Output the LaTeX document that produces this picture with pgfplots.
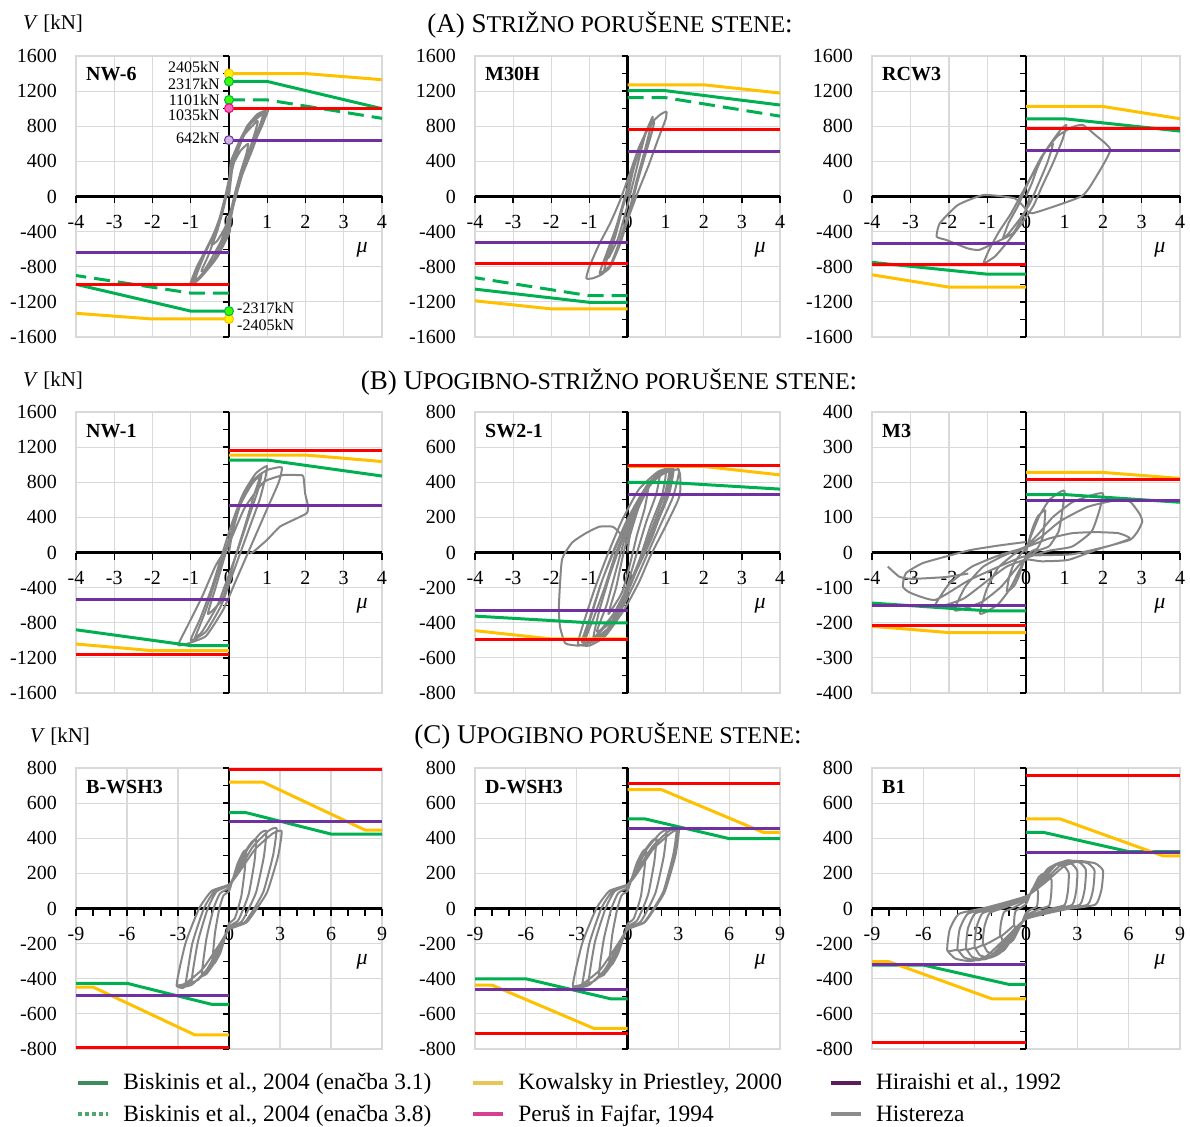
\documentclass[border=0pt]{standalone}
\usepackage{fontspec}
\setmainfont{Liberation Serif}
\usepackage{pgfplots}
\pgfplotsset{compat=1.18}
\definecolor{gridc}{RGB}{217,217,217}
\definecolor{cY}{RGB}{255,192,0}
\definecolor{cG}{RGB}{0,176,80}
\definecolor{cR}{RGB}{255,0,0}
\definecolor{cP}{RGB}{112,48,160}
\definecolor{cH}{RGB}{134,134,134}
\definecolor{lg1}{RGB}{62,140,90}
\definecolor{lg2}{RGB}{80,165,110}
\definecolor{lg3}{RGB}{232,196,90}
\definecolor{lg4}{RGB}{214,64,143}
\definecolor{lg5}{RGB}{92,28,94}
\definecolor{lg6}{RGB}{140,140,140}
\newcommand{\tickfont}{\fontsize{20}{20}\selectfont}
\newcommand{\zeroax}[6]{%
  \draw[black, line width=2.5pt] (axis cs:#1,0) -- (axis cs:#2,0);
  \draw[black, line width=2.5pt] (axis cs:0,#3) -- (axis cs:0,#4);
  \pgfplotsinvokeforeach{#5}{\draw[black, line width=1.3pt] (axis cs:##1,0) -- ++(0pt,-7pt);}
  \pgfplotsinvokeforeach{#6}{\draw[black, line width=1.3pt] (axis cs:0,##1) -- ++(-6pt,0pt);}
}
\newcommand{\xlabs}[1]{\pgfplotsinvokeforeach{#1}{\node[font=\tickfont, yshift=-25pt] at (axis cs:##1,0) {##1};}}
\newcommand{\pname}[1]{\node[anchor=base west, inner sep=0pt, font=\bfseries\fontsize{20}{20}\selectfont, xshift=10pt, yshift=-25pt] at (rel axis cs:0,1) {#1};
  \node[font=\fontsize{22}{22}\selectfont\itshape] at (rel axis cs:0.935,0.31) {μ};}
\pgfplotsset{
 panel/.style={scale only axis, height=281pt, anchor=north west, clip=false,
   axis line style={draw=gridc, line width=1.2pt},
   grid=major, grid style={draw=gridc, line width=1.2pt},
   major tick length=0pt, minor tick length=0pt,
   xticklabels={},
   yticklabel style={font=\tickfont, inner sep=0pt, anchor=east, xshift=-19pt}},
 y1600/.style={ymin=-1600,ymax=1600,ytick={-1600,-1200,...,1600},yticklabels={-1600,-1200,-800,-400,0,400,800,1200,1600}},
 y800/.style={ymin=-800,ymax=800,ytick={-800,-600,...,800},yticklabels={-800,-600,-400,-200,0,200,400,600,800}},
 y400/.style={ymin=-400,ymax=400,ytick={-400,-300,...,400},yticklabels={-400,-300,-200,-100,0,100,200,300,400}},
 xA/.style={xmin=-4,xmax=4,xtick={-4,...,4}},
 xC/.style={xmin=-9,xmax=9,xtick={-9,-6,...,9}},
 yel/.style={cY, line width=3pt, mark=none},
 grn/.style={cG, line width=3pt, mark=none},
 grnd/.style={cG, line width=3pt, mark=none, dash pattern=on 16pt off 8pt},
 rd/.style={cR, line width=3pt, mark=none},
 pur/.style={cP, line width=3pt, mark=none},
 hys/.style={cH, line width=2pt, mark=none, smooth, tension=0.3, line join=round},
}
\begin{document}
\begin{tikzpicture}
\path[use as bounding box] (0pt,0pt) rectangle (1190pt,-1126pt);
% titles
\node[anchor=base, inner sep=0pt, font=\fontsize{27}{27}\selectfont] at (610pt,-33pt) {(A) S{\fontsize{24}{24}\selectfont TRIŽNO PORUŠENE STENE}:};
\node[anchor=base, inner sep=0pt, font=\fontsize{27}{27}\selectfont] at (609pt,-389pt) {(B) U{\fontsize{24}{24}\selectfont POGIBNO-STRIŽNO PORUŠENE STENE}:};
\node[anchor=base, inner sep=0pt, font=\fontsize{27}{27}\selectfont] at (608pt,-743pt) {(C) U{\fontsize{24}{24}\selectfont POGIBNO PORUŠENE STENE}:};
\node[anchor=base west, inner sep=0pt, font=\fontsize{21}{21}\selectfont] at (23pt,-30pt) {\textit{V} [kN]};
\node[anchor=base west, inner sep=0pt, font=\fontsize{21}{21}\selectfont] at (23pt,-386.5pt) {\textit{V} [kN]};
\node[anchor=base west, inner sep=0pt, font=\fontsize{21}{21}\selectfont] at (30pt,-742.5pt) {\textit{V} [kN]};

% ===== A1 NW-6
\begin{axis}[panel, y1600, xA, at={(76pt,-56pt)}, width=306pt]
\zeroax{-4}{4}{-1600}{1600}{-4,...,4}{-1600,-1400,...,1600}
\xlabs{-4,...,4}
\addplot[hys] coordinates {(0,0) (0.1,350) (0.3,520) (0.5,600) (0.45,480) (0.32,300) (0.18,80) (0.05,-150) (-0.1,-350) (-0.3,-500) (-0.45,-550) (-0.3,-380) (-0.15,-150) (-0.02,100) (0.15,420) (0.4,700) (0.75,860) (0.68,730) (0.5,480) (0.3,200) (0.12,-100) (-0.02,-380) (-0.25,-650) (-0.5,-800) (-0.72,-850) (-0.55,-680) (-0.33,-420) (-0.15,-150) (0,150) (0.05,400) (0.25,600) (0.47,800) (0.75,940) (1.02,985) (0.95,900) (0.86,800) (0.65,600) (0.47,400) (0.3,200) (0.15,0) (0.05,-200) (0.02,-400) (-0.2,-600) (-0.5,-800) (-0.8,-950) (-1.02,-1008) (-0.84,-800) (-0.6,-600) (-0.37,-400) (-0.2,-200) (-0.08,0) (0,200) (0.1,450) (0.35,700) (0.7,900) (0.95,960) (0.85,820) (0.6,520) (0.35,250) (0.15,-50) (0,-250) (-0.2,-500) (-0.45,-700) (-0.7,-880) (-0.9,-960) (-0.75,-780) (-0.5,-520) (-0.28,-300) (-0.12,-80) (0.02,180) (0.12,420) (0.35,680) (0.62,860) (0.9,950) (0.8,800) (0.6,580) (0.4,350) (0.22,100) (0.08,-150) (-0.1,-420) (-0.35,-680) (-0.65,-880) (-0.95,-980) (-0.7,-720) (-0.45,-480) (-0.25,-250) (-0.1,0) (0.05,300) (0.2,550) (0.5,800) (0.85,930)};
\addplot[grn] coordinates {(0,1310) (1,1310) (4,1000)};
\addplot[grn] coordinates {(0,-1305) (-1,-1305) (-4,-1000)};
\addplot[grnd] coordinates {(0,1100) (1,1100) (4,890)};
\addplot[grnd] coordinates {(0,-1100) (-1,-1100) (-4,-900)};
\addplot[yel] coordinates {(0,1400) (2,1400) (4,1330)};
\addplot[yel] coordinates {(0,-1395) (-2,-1395) (-4,-1330)};
\addplot[rd] coordinates {(0,1005) (4,1005)};
\addplot[rd] coordinates {(-4,-1005) (0,-1005)};
\addplot[pur] coordinates {(0,642) (4,642)};
\addplot[pur] coordinates {(-4,-642) (0,-642)};
\addplot[only marks, mark=*, mark size=4.5pt, mark options={draw=cY, fill=yellow, line width=1pt}] coordinates {(0,1400) (0,-1395)};
\addplot[only marks, mark=*, mark size=4.5pt, mark options={draw=cG, fill=green!70!lime, line width=1pt}] coordinates {(0,1310) (0,1100) (0,-1305)};
\addplot[only marks, mark=*, mark size=4.5pt, mark options={draw=magenta!80!red, fill=magenta!60, line width=1pt}] coordinates {(0,1005)};
\addplot[only marks, mark=*, mark size=4.5pt, mark options={draw=cP, fill=cP!35, line width=1pt}] coordinates {(0,642)};
\node[anchor=east, font=\fontsize{16}{16}\selectfont, inner sep=0pt, xshift=-9pt] at (axis cs:0,1475) {2405kN};
\node[anchor=east, font=\fontsize{16}{16}\selectfont, inner sep=0pt, xshift=-9pt] at (axis cs:0,1281) {2317kN};
\node[anchor=east, font=\fontsize{16}{16}\selectfont, inner sep=0pt, xshift=-9pt] at (axis cs:0,1099) {1101kN};
\node[anchor=east, font=\fontsize{16}{16}\selectfont, inner sep=0pt, xshift=-9pt] at (axis cs:0,928) {1035kN};
\node[anchor=east, font=\fontsize{16}{16}\selectfont, inner sep=0pt, xshift=-9pt] at (axis cs:0,666) {642kN};
\node[anchor=west, font=\fontsize{16}{16}\selectfont, inner sep=0pt, xshift=8pt] at (axis cs:0,-1270) {-2317kN};
\node[anchor=west, font=\fontsize{16}{16}\selectfont, inner sep=0pt, xshift=8pt] at (axis cs:0,-1464) {-2405kN};
\pname{NW-6}
\end{axis}

% ===== A2 M30H
\begin{axis}[panel, y1600, xA, at={(475pt,-56pt)}, width=305pt]
\zeroax{-4}{4}{-1600}{1600}{-4,...,4}{-1600,-1400,...,1600}
\xlabs{-4,...,4}
\addplot[hys] coordinates {(0,0) (0.15,300) (0.35,580) (0.5,760) (0.4,600) (0.2,250) (0,-100) (-0.25,-480) (-0.5,-700) (-0.3,-420) (-0.05,0) (0.2,400) (0.4,650) (0.66,909) (0.6,780) (0.45,520) (0.25,200) (0.05,-150) (-0.2,-500) (-0.45,-780) (-0.73,-875) (-0.55,-650) (-0.3,-350) (-0.1,-50) (0.1,250) (0.3,550) (0.6,820) (0.85,930) (1.02,966) (1.0,880) (0.8,650) (0.55,350) (0.3,80) (0.1,-150) (-0.15,-450) (-0.4,-750) (-0.65,-880) (-0.9,-930) (-1.08,-932) (-1.0,-800) (-0.75,-550) (-0.45,-300) (-0.2,-50) (0.05,250) (0.3,560) (0.55,780) (0.7,850) (0.62,700) (0.45,450) (0.25,150) (0.05,-200) (-0.2,-550) (-0.45,-800) (-0.62,-860) (-0.5,-650) (-0.25,-300) (0,50) (0.2,380)};
\addplot[grn] coordinates {(0,1205) (1,1205) (4,1042)};
\addplot[grn] coordinates {(0,-1205) (-1,-1205) (-4,-1055)};
\addplot[grnd] coordinates {(0,1125) (1,1125) (4,915)};
\addplot[grnd] coordinates {(0,-1130) (-1,-1130) (-4,-925)};
\addplot[yel] coordinates {(0,1272) (2,1272) (4,1178)};
\addplot[yel] coordinates {(0,-1280) (-2,-1280) (-4,-1188)};
\addplot[rd] coordinates {(0,758) (4,758)};
\addplot[rd] coordinates {(-4,-760) (0,-760)};
\addplot[pur] coordinates {(0,515) (4,515)};
\addplot[pur] coordinates {(-4,-522) (0,-522)};
\pname{M30H}
\end{axis}

% ===== A3 RCW3
\begin{axis}[panel, y1600, xA, at={(872pt,-56pt)}, width=308pt]
\zeroax{-4}{4}{-1600}{1600}{-4,...,4}{-1600,-1400,...,1600}
\xlabs{-4,...,4}
\addplot[hys] coordinates {(0,0) (0.15,150) (0.3,330) (0.5,520) (0.7,600) (0.55,380) (0.3,120) (0.1,-80) (-0.15,-250) (-0.45,-420) (-0.6,-480) (-0.45,-300) (-0.2,-100) (0.05,150) (0.35,400) (0.6,580) (0.9,760) (1.05,814) (0.95,650) (0.7,380) (0.4,100) (0.2,-100) (-0.1,-300) (-0.45,-500) (-0.8,-680) (-1.1,-761) (-0.95,-600) (-0.7,-400) (-0.4,-200) (-0.15,0) (0.1,200) (0.4,450) (0.8,680) (1.2,790) (1.48,814) (1.8,700) (2.19,530) (1.77,188) (1.43,0) (0.17,-191) (-0.05,-120) (-0.3,-20) (-1.1,17) (-1.77,-97) (-2.24,-305) (-2.32,-458) (-2.07,-495) (-1.52,-590) (-1.22,-609) (-0.84,-533) (-0.34,-419) (-0.04,-191) (0.1,0)};
\addplot[grn] coordinates {(0,885) (1,885) (4,745)};
\addplot[grn] coordinates {(0,-885) (-1,-885) (-4,-750)};
\addplot[yel] coordinates {(0,1025) (2,1025) (4,886)};
\addplot[yel] coordinates {(0,-1032) (-2,-1032) (-4,-892)};
\addplot[rd] coordinates {(0,770) (4,770)};
\addplot[rd] coordinates {(-4,-772) (0,-772)};
\addplot[pur] coordinates {(0,525) (4,525)};
\addplot[pur] coordinates {(-4,-530) (0,-530)};
\pname{RCW3}
\end{axis}

% ===== B1 NW-1
\begin{axis}[panel, y1600, xA, at={(76pt,-412pt)}, width=306pt]
\zeroax{-4}{4}{-1600}{1600}{-4,...,4}{-1600,-1400,...,1600}
\xlabs{-4,...,4}
\addplot[hys] coordinates {(0,0) (0.1,250) (0.3,550) (0.6,800) (0.8,850) (0.65,650) (0.45,350) (0.2,0) (0,-300) (-0.2,-550) (-0.55,-700) (-0.35,-400) (-0.15,-100) (0.05,200) (0.35,650) (0.7,900) (0.99,985) (0.95,850) (0.8,600) (0.55,300) (0.3,0) (0.05,-300) (-0.2,-600) (-0.6,-900) (-1.0,-1000) (-0.75,-750) (-0.45,-400) (-0.2,-50) (0.05,300) (0.35,650) (0.7,850) (1.0,940) (1.38,970) (1.3,800) (1.0,500) (0.7,200) (0.45,-50) (0.2,-300) (-0.15,-650) (-0.6,-950) (-1.1,-1040) (-1.33,-1053) (-1.1,-850) (-0.7,-500) (-0.35,-150) (0,100) (0.4,500) (0.9,800) (1.42,882) (1.77,882) (1.94,870) (1.99,674) (2.07,522) (2.03,446) (1.68,370) (1.33,294) (0.99,142) (0.64,9) (0.55,-10)};
\addplot[hys] coordinates {(-0.9,-980) (-0.6,-650) (-0.3,-250) (0,150) (0.3,550) (0.6,780) (0.85,900) (0.75,700) (0.5,380) (0.25,50) (0,-250) (-0.3,-600) (-0.7,-900) (-0.9,-980)};
\addplot[grn] coordinates {(0,1053) (1,1053) (4,871)};
\addplot[grn] coordinates {(0,-1060) (-1,-1060) (-4,-880)};
\addplot[yel] coordinates {(0,1110) (2,1110) (4,1036)};
\addplot[yel] coordinates {(0,-1118) (-2,-1118) (-4,-1042)};
\addplot[rd] coordinates {(0,1156) (4,1156)};
\addplot[rd] coordinates {(-4,-1160) (0,-1160)};
\addplot[pur] coordinates {(0,533) (4,533)};
\addplot[pur] coordinates {(-4,-533) (0,-533)};
\pname{NW-1}
\end{axis}

% ===== B2 SW2-1
\begin{axis}[panel, y800, xA, at={(475pt,-412pt)}, width=305pt]
\zeroax{-4}{4}{-800}{800}{-4,...,4}{-800,-700,...,800}
\xlabs{-4,...,4}
\addplot[hys] coordinates {(0,0) (0.1,150) (0.35,300) (0.55,380) (0.45,250) (0.25,100) (0.05,-80) (-0.15,-230) (-0.5,-350) (-0.3,-200) (-0.1,0) (0.25,280) (0.6,400) (0.85,450) (0.75,330) (0.5,180) (0.25,0) (0,-180) (-0.35,-380) (-0.8,-450) (-0.55,-300) (-0.3,-100) (0,130) (0.4,330) (0.8,430) (1.1,470) (1.0,350) (0.75,200) (0.45,30) (0.15,-150) (-0.2,-330) (-0.6,-470) (-1.1,-500) (-0.9,-380) (-0.6,-200) (-0.3,0) (0.05,180) (0.5,380) (0.9,460) (1.29,489) (1.38,441) (1.38,337) (1.29,280) (1.0,150) (0.6,-20) (0.3,-170) (-0.1,-330) (-0.6,-480) (-1.0,-530) (-1.3,-520) (-1.15,-400) (-0.85,-200) (-0.5,0) (-0.15,180) (0.3,360) (0.8,460) (1.2,480) (1.1,340) (0.8,180) (0.4,-20) (0,-200) (-0.5,-400) (-1.0,-510) (-1.27,-530) (-1.63,-517) (-1.77,-423) (-1.8,-309) (-1.72,-43) (-1.45,57) (-1.1,109) (-0.74,147) (-0.39,147) (-0.2,110) (0,50)};
\addplot[hys] coordinates {(0,50) (0.3,260) (0.7,420) (1.2,470) (1.05,330) (0.7,150) (0.35,-40) (0,-220) (-0.45,-420) (-0.95,-500) (-1.2,-510) (-1.0,-380) (-0.7,-180) (-0.35,20) (0,190) (0.45,360) (0.95,450) (1.35,470) (1.2,320) (0.85,150) (0.5,-20) (0.15,-190) (-0.25,-360) (-0.75,-490) (-1.15,-520) (-0.95,-360) (-0.65,-150) (-0.25,60) (0.15,230) (0.6,400) (1.0,455) (0.9,320) (0.6,150) (0.3,-50) (-0.05,-230) (-0.5,-430) (-0.9,-500) (-0.75,-340) (-0.45,-120) (-0.1,90) (0.3,300) (0.75,440) (1.15,475) (0.95,280) (0.65,90) (0.2,-120) (-0.3,-330) (-0.85,-480)};
\addplot[grn] coordinates {(0,400) (1,400) (4,361)};
\addplot[grn] coordinates {(0,-400) (-1,-400) (-4,-362)};
\addplot[yel] coordinates {(0,490) (2,490) (4,442)};
\addplot[yel] coordinates {(0,-492) (-2,-492) (-4,-445)};
\addplot[rd] coordinates {(0,497) (4,497)};
\addplot[rd] coordinates {(-4,-498) (0,-498)};
\addplot[pur] coordinates {(0,329) (4,329)};
\addplot[pur] coordinates {(-4,-329) (0,-329)};
\pname{SW2-1}
\end{axis}

% ===== B3 M3
\begin{axis}[panel, y400, xA, at={(872pt,-412pt)}, width=308pt]
\zeroax{-4}{4}{-400}{400}{-4,...,4}{-400,-350,...,400}
\xlabs{-4,...,4}
\addplot[hys] coordinates {(0,0) (0.08,36) (0.18,72) (0.3,102) (0.43,116) (0.5,120) (0.48,84) (0.43,42) (0.3,12) (0.15,4) (0,-11) (-0.08,-33) (-0.18,-66) (-0.3,-94) (-0.43,-107) (-0.5,-110) (-0.43,-66) (-0.3,-28) (-0.15,-6) (0,12) (0.15,53) (0.35,105) (0.6,149) (0.85,170) (1.0,175) (0.95,123) (0.85,61) (0.6,18) (0.3,5) (0,-17) (-0.18,-52) (-0.42,-104) (-0.72,-147) (-1.02,-168) (-1.2,-173) (-1.02,-104) (-0.72,-43) (-0.36,-9) (0,18) (0.3,50) (0.7,101) (1.2,143) (1.7,163) (2.0,168) (1.9,118) (1.7,59) (1.2,17) (0.6,5) (0,-16) (-0.28,-49) (-0.65,-98) (-1.12,-139) (-1.58,-159) (-1.86,-164) (-1.58,-98) (-1.12,-41) (-0.56,-8) (0,17) (0.4,45) (0.9,90) (1.6,130) (2.3,148) (2.7,145) (2.95,110) (3.02,88) (2.9,60) (2.7,36) (1.94,12) (1.1,-21) (0.4,-25) (0,-20) (-0.5,-40) (-1.0,-80) (-1.6,-130) (-2.1,-150) (-2.36,-150) (-2.0,-90) (-1.4,-40) (-0.7,-8) (0,15) (0.6,40) (1.2,55) (1.8,58) (2.4,55) (2.7,40) (2.2,20) (1.2,-5) (0,-10) (-0.7,-40) (-1.5,-80) (-2.36,-135) (-3.0,-115) (-3.2,-97) (-3.12,-59) (-2.7,-31) (-2.1,-12) (-1.44,7) (-0.7,20) (0,30)};
\addplot[hys] coordinates {(-3.59,-40) (-3.29,-69) (-2.96,-75) (-2.1,-70) (-1.5,-60)};
\addplot[grn] coordinates {(0,165) (1,165) (4,143)};
\addplot[grn] coordinates {(0,-166) (-1,-166) (-4,-144)};
\addplot[yel] coordinates {(0,228) (2,228) (4,211)};
\addplot[yel] coordinates {(0,-228) (-2,-228) (-4,-210)};
\addplot[rd] coordinates {(0,209) (4,209)};
\addplot[rd] coordinates {(-4,-209) (0,-209)};
\addplot[pur] coordinates {(0,149) (4,149)};
\addplot[pur] coordinates {(-4,-151) (0,-151)};
\pname{M3}
\end{axis}

% ===== C1 B-WSH3
\begin{axis}[panel, y800, xC, at={(76pt,-768pt)}, width=306pt]
\zeroax{-9}{9}{-800}{800}{-9,...,9}{-800,-700,...,800}
\xlabs{-9,-6,...,9}
\addplot[hys] coordinates {(-1,-320) (-0.83,-144) (-0.57,0) (-0.33,73) (0,99) (0.17,149) (0.5,254) (0.83,320) (1,330) (0.93,221) (0.73,73) (0.53,0) (0.33,-58) (0,-86) (-0.17,-144) (-0.5,-250) (-0.83,-310) (-1,-320) (-1.6,-385) (-1.33,-173) (-0.91,0) (-0.53,86) (0,117) (0.27,176) (0.8,300) (1.33,378) (1.6,390) (1.49,261) (1.17,86) (0.85,0) (0.53,-69) (0,-104) (-0.27,-173) (-0.8,-300) (-1.33,-373) (-1.6,-385) (-2.2,-420) (-1.83,-189) (-1.25,0) (-0.73,97) (0,132) (0.37,198) (1.1,339) (1.83,427) (2.2,440) (2.05,295) (1.61,97) (1.17,0) (0.73,-76) (0,-113) (-0.37,-189) (-1.1,-328) (-1.83,-407) (-2.2,-420) (-3.08,-440) (-2.56,-198) (-1.76,0) (-1.02,100) (0,137) (0.48,205) (1.4,351) (2.32,442) (2.8,456) (2.6,306) (2.04,100) (1.48,0) (0.92,-79) (0,-119) (-0.52,-198) (-1.54,-343) (-2.56,-427) (-3.08,-440) (-2.6,-445) (-2.16,-200) (-1.48,0) (-0.86,97) (0,132) (0.53,198) (1.55,339) (2.57,427) (3.1,440) (2.88,295) (2.26,97) (1.64,0) (1.02,-80) (0,-120) (-0.44,-200) (-1.3,-347) (-2.16,-432) (-2.6,-445)};
\addplot[grn] coordinates {(0,546) (1,546) (6,424) (9,424)};
\addplot[grn] coordinates {(0,-546) (-1,-546) (-6,-426) (-9,-426)};
\addplot[yel] coordinates {(0,720) (2,720) (8,447) (9,447)};
\addplot[yel] coordinates {(0,-720) (-2,-720) (-8,-447) (-9,-447)};
\addplot[rd] coordinates {(0,789) (9,789)};
\addplot[rd] coordinates {(-9,-789) (0,-789)};
\addplot[pur] coordinates {(0,497) (9,497)};
\addplot[pur] coordinates {(-9,-498) (0,-498)};
\pname{B-WSH3}
\end{axis}

% ===== C2 D-WSH3
\begin{axis}[panel, y800, xC, at={(475pt,-768pt)}, width=305pt]
\zeroax{-9}{9}{-800}{800}{-9,...,9}{-800,-700,...,800}
\xlabs{-9,-6,...,9}
\addplot[hys] coordinates {(-1.1,-330) (-0.9,-150) (-0.6,0) (-0.35,75) (0,100) (0.18,150) (0.55,260) (0.9,325) (1.1,335) (1.0,225) (0.8,75) (0.58,0) (0.35,-60) (0,-88) (-0.18,-148) (-0.55,-255) (-0.9,-318) (-1.1,-330) (-1.7,-390) (-1.4,-175) (-0.95,0) (-0.55,88) (0,118) (0.3,178) (0.85,305) (1.4,380) (1.7,395) (1.58,265) (1.24,88) (0.9,0) (0.55,-70) (0,-105) (-0.3,-176) (-0.85,-305) (-1.4,-378) (-1.7,-390) (-2.3,-425) (-1.92,-190) (-1.3,0) (-0.76,98) (0,133) (0.39,200) (1.15,340) (1.92,428) (2.3,442) (2.14,297) (1.68,98) (1.22,0) (0.76,-77) (0,-114) (-0.39,-190) (-1.15,-332) (-1.92,-410) (-2.3,-425) (-3.23,-445) (-2.68,-200) (-1.84,0) (-1.07,100) (0,137) (0.5,205) (1.47,352) (2.42,440) (2.9,450) (2.7,306) (2.13,100) (1.54,0) (0.96,-80) (0,-120) (-0.55,-200) (-1.6,-347) (-2.68,-432) (-3.23,-445) (-2.72,-448) (-2.26,-202) (-1.55,0) (-0.9,98) (0,133) (0.55,198) (1.52,339) (2.52,427) (3.03,447) (2.82,298) (2.21,98) (1.6,0) (1.0,-80) (0,-120) (-0.46,-202) (-1.36,-350) (-2.26,-435) (-2.72,-448)};
\addplot[grn] coordinates {(0,511) (1,511) (6,398) (9,398)};
\addplot[grn] coordinates {(0,-514) (-1,-514) (-6,-400) (-9,-400)};
\addplot[yel] coordinates {(0,677) (2,677) (8,434) (9,434)};
\addplot[yel] coordinates {(0,-682) (-2,-682) (-8,-436) (-9,-436)};
\addplot[rd] coordinates {(0,709) (9,709)};
\addplot[rd] coordinates {(-9,-713) (0,-713)};
\addplot[pur] coordinates {(0,458) (9,458)};
\addplot[pur] coordinates {(-9,-460) (0,-460)};
\pname{D-WSH3}
\end{axis}

% ===== C3 B1
\begin{axis}[panel, y800, xC, at={(872pt,-768pt)}, width=308pt]
\zeroax{-9}{9}{-800}{800}{-9,...,9}{-800,-700,...,800}
\xlabs{-9,-6,...,9}
\addplot[hys] coordinates {(-0.7,-96) (-0.68,-48) (-0.6,-12) (-0.35,2) (0,25) (0.18,66) (0.35,108) (0.49,120) (0.63,114) (0.7,96) (0.69,48) (0.63,10) (0.35,-2) (0,-25) (-0.18,-66) (-0.35,-108) (-0.49,-120) (-0.63,-114) (-0.7,-96) (-1.5,-160) (-1.46,-80) (-1.28,-20) (-0.75,4) (0,45) (0.38,110) (0.75,180) (1.05,200) (1.35,190) (1.5,160) (1.47,80) (1.35,16) (0.75,-4) (0,-40) (-0.38,-110) (-0.75,-180) (-1.05,-200) (-1.35,-190) (-1.5,-160) (-2.5,-208) (-2.43,-104) (-2.13,-26) (-1.25,5) (0,55) (0.63,138) (1.25,225) (1.75,250) (2.25,238) (2.5,200) (2.45,100) (2.25,20) (1.25,-5) (0,-50) (-0.63,-143) (-1.25,-234) (-1.75,-260) (-2.25,-247) (-2.5,-208) (-3,-224) (-2.91,-112) (-2.55,-28) (-1.5,6) (0,60) (0.75,146) (1.5,239) (2.1,265) (2.7,252) (3,212) (2.94,106) (2.7,21) (1.5,-6) (0,-55) (-0.75,-154) (-1.5,-252) (-2.1,-280) (-2.7,-266) (-3,-224) (-3.5,-232) (-3.4,-116) (-2.98,-29) (-1.75,6) (0,65) (0.88,151) (1.75,248) (2.45,275) (3.15,261) (3.5,220) (3.43,110) (3.15,22) (1.75,-6) (0,-58) (-0.88,-160) (-1.75,-261) (-2.45,-290) (-3.15,-276) (-3.5,-232) (-4,-236) (-3.88,-118) (-3.4,-30) (-2,6) (0,65) (1,150) (2,245) (2.8,272) (3.6,258) (4,218) (3.92,109) (3.6,22) (2,-6) (0,-60) (-1,-162) (-2,-266) (-2.8,-295) (-3.6,-280) (-4,-236) (-4.6,-240) (-4.46,-120) (-3.91,-30) (-2.3,6) (0,70) (1.13,149) (2.25,243) (3.15,270) (4.05,257) (4.5,216) (4.41,108) (4.05,22) (2.25,-6) (0,-60) (-1.15,-165) (-2.3,-270) (-3.22,-300) (-4.14,-285) (-4.6,-240)};
\addplot[grn] coordinates {(0,434) (1,434) (6,324) (9,324)};
\addplot[grn] coordinates {(0,-432) (-1,-432) (-6,-322) (-9,-322)};
\addplot[yel] coordinates {(0,510) (2,510) (8,300) (9,300)};
\addplot[yel] coordinates {(0,-514) (-2,-514) (-8,-303) (-9,-303)};
\addplot[rd] coordinates {(0,760) (9,760)};
\addplot[rd] coordinates {(-9,-764) (0,-764)};
\addplot[pur] coordinates {(0,320) (9,320)};
\addplot[pur] coordinates {(-9,-318) (0,-318)};
\pname{B1}
\end{axis}

% ===== legend
\begin{axis}[at={(0pt,-1126pt)}, anchor=south west, scale only axis, width=1190pt, height=1126pt, hide axis,
  xmin=0, xmax=1, ymin=0, ymax=1,
  legend columns=3, legend cell align=left,
  legend image code/.code={\draw[#1] (0pt,0pt) -- (30pt,0pt);},
  legend style={at={(0.064,0.0484)}, anchor=north west, draw=none, fill=none, inner sep=0pt,
    font=\fontsize{23.4}{23.4}\selectfont, row sep=10pt,
    /tikz/every odd column/.style={column sep=11pt},
    /tikz/column 2/.style={column sep=38pt},
    /tikz/column 4/.style={column sep=45pt}}]
\addlegendimage{lg1, line width=4pt}
\addlegendentry{Biskinis et al., 2004 (enačba 3.1)}
\addlegendimage{lg3, line width=4pt}
\addlegendentry{Kowalsky in Priestley, 2000}
\addlegendimage{lg5, line width=4pt}
\addlegendentry{Hiraishi et al., 1992}
\addlegendimage{lg2, line width=4pt, dash pattern=on 4pt off 3pt}
\addlegendentry{Biskinis et al., 2004 (enačba 3.8)}
\addlegendimage{lg4, line width=4pt}
\addlegendentry{Peruš in Fajfar, 1994}
\addlegendimage{lg6, line width=4pt}
\addlegendentry{Histereza}
\end{axis}
\end{tikzpicture}
\end{document}
